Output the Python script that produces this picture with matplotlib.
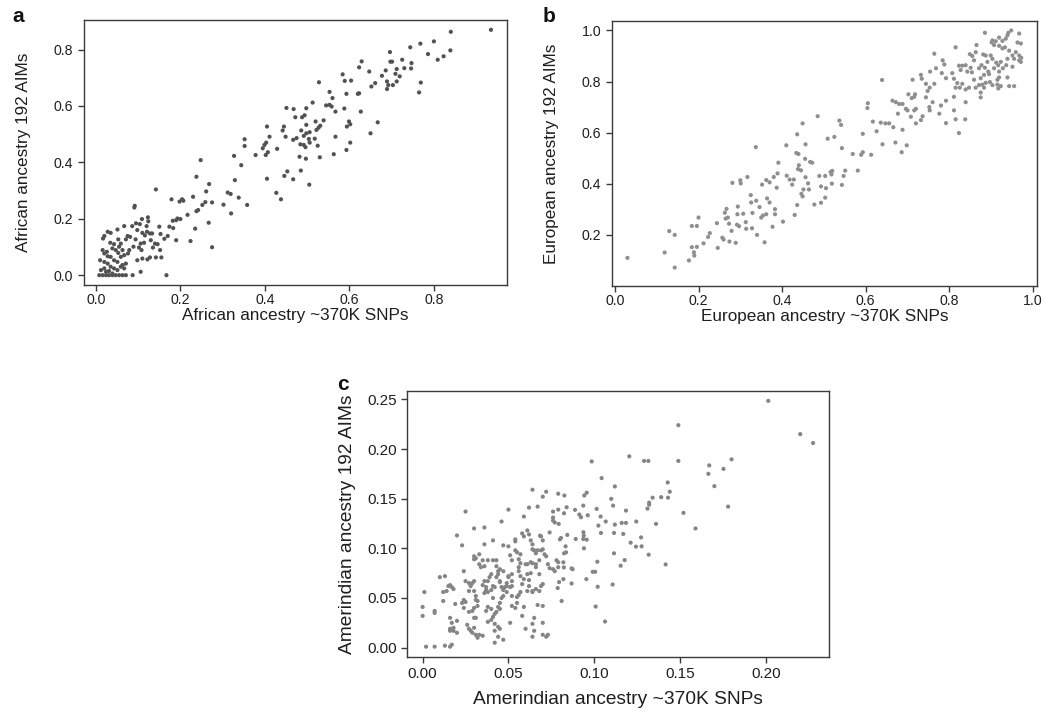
import matplotlib
matplotlib.use("Agg")
import matplotlib.pyplot as plt

plt.rcParams['font.family'] = ['Liberation Sans', 'DejaVu Sans']

# ---------------- Panel a: African ancestry ----------------
african_snps = [
    .248, .327, .344, .238, .268, .329, .405, .142, .261, .312,
    .319, .338, .230, .179, .204, .207, .198, .259, .275, .252,
    .302, .358, .242, .238, .092, .091, .320, .217, .200, .190,
    .193, .182, .109, .123, .124, .267, .095, .104, .067, .086,
    .120, .174, .183, .150, .235, .051, .028, .035, .020, .017,
    .128, .121, .133, .116, .140, .146, .153, .162, .170, .190,
    .224, .098, .110, .094, .106, .114, .130, .135, .152, .142,
    .155, .275, .071, .075, .081, .089, .102, .108, .122, .128,
    .110, .098, .079, .076, .059, .053, .055, .063, .043, .034,
    .039, .047, .053, .059, .067, .071, .063, .051, .043, .035,
    .028, .020, .016, .026, .010, .020, .028, .035, .043, .051,
    .059, .067, .020, .012, .024, .031, .039, .008, .016, .024,
    .031, .039, .047, .055, .063, .071, .087, .106, .167, .352,
    .352,
    .840, .839, .823, .809, .800, .786, .768, .744, .769, .765,
    .747, .746, .730, .725, .712, .709, .719, .712, .703, .692,
    .689, .689, .686, .677, .696, .697, .701, .661, .652, .647,
    .629, .623, .604, .589, .584, .593, .620, .623, .627, .588,
    .553, .560, .528, .553, .545, .558, .567, .513, .498, .468,
    .451, .472, .488, .494, .539, .520, .527, .531, .522, .498,
    .486, .492, .498, .506, .504, .506, .518, .525, .492, .484,
    .496, .467, .475, .442, .445, .449, .411, .405, .403, .399,
    .395, .378, .402, .407, .429, .567, .599, .602, .594, .650,
    .667, .602, .593, .563, .530, .482, .497,
    .446, .453, .467, .485, .505, .427, .438, .935,
]
african_aims = [
    .408, .423, .390, .349, .323, .337, .342, .304, .297, .293,
    .288, .275, .278, .269, .269, .264, .261, .259, .258, .249,
    .250, .249, .231, .227, .246, .240, .219, .214, .199, .195,
    .201, .193, .199, .205, .191, .186, .184, .181, .174, .174,
    .174, .172, .167, .172, .165, .162, .154, .150, .139, .130,
    .148, .154, .148, .141, .112, .110, .146, .129, .139, .124,
    .121, .160, .150, .127, .112, .115, .124, .098, .089, .063,
    .063, .099, .127, .139, .136, .101, .098, .089, .056, .063,
    .059, .053, .089, .077, .112, .127, .101, .089, .110, .115,
    .095, .089, .079, .065, .071, .041, .036, .047, .053, .065,
    .067, .077, .089, .083, .053, .047, .041, .030, .024, .018,
    .030, .024, .024, .018, .012, .015, .006, .000, .000, .000,
    .000, .000, .000, .000, .000, .000, .000, .012, .000, .482,
    .458,
    .863, .797, .776, .764, .829, .784, .821, .808, .683, .648,
    .752, .733, .734, .764, .731, .714, .705, .687, .674, .674,
    .687, .660, .726, .707, .791, .757, .757, .681, .669, .722,
    .758, .737, .690, .689, .712, .643, .643, .645, .580, .591,
    .650, .628, .684, .604, .602, .598, .580, .612, .592, .589,
    .593, .560, .560, .567, .549, .545, .523, .530, .515, .533,
    .513, .494, .503, .507, .483, .470, .484, .459, .462, .464,
    .454, .480, .486, .513, .527, .491, .491, .527, .470, .462,
    .450, .426, .426, .436, .448, .491, .545, .535, .527, .503,
    .542, .470, .444, .429, .418, .420, .413,
    .352, .368, .340, .371, .321, .292, .269, .870,
]

# ---------------- Panel b: European ancestry ----------------
european_snps = [
    .485, .449, .436, .456, .410, .337, .434, .439,
    .455, .467, .472, .391, .440, .438, .445, .411, .389, .380,
    .362, .370, .352, .418, .428, .424, .456, .462, .451, .464,
    .446, .449, .436, .477, .387, .317, .300, .301, .281, .325,
    .326, .338, .346, .364, .370, .383, .383, .362, .354, .350,
    .402, .377, .430, .329, .307, .293, .294, .267, .263, .270,
    .265, .273, .244, .279, .292, .297, .313, .314, .328, .340,
    .358, .289, .274, .260, .257, .246, .227, .223, .212, .200,
    .184, .196, .196, .184, .189, .190, .177, .143, .130, .119,
    .143, .030,
    .948, .941, .939, .967, .963, .971, .935, .927, .919, .911,
    .903, .901, .907, .919, .927, .933, .943, .959, .967, .972,
    .971, .955, .951, .939, .936, .951, .967, .885, .865, .863,
    .849, .855, .859, .839, .831, .823, .827, .843, .851, .854,
    .871, .877, .881, .887, .899, .903, .891, .885, .893, .883,
    .875, .895, .907, .917, .919, .928, .923, .912, .815, .784,
    .788, .764, .768, .782, .792, .807, .811, .819, .815, .831,
    .811, .825, .839, .847, .859, .863, .871, .879, .887, .883,
    .875, .875, .903, .917, .915, .923, .939, .943, .955, .919,
    .915, .897, .839, .811, .815, .838, .823, .792, .792, .776,
    .780, .760, .752, .753, .744, .732, .734, .744, .748, .753,
    .764, .754, .712, .718, .702, .710, .716, .720, .716, .696,
    .700, .688, .677, .672, .664, .680, .708, .720, .732, .736,
    .688, .666, .656, .647, .636, .617, .626, .593, .605, .604,
    .639, .640, .671, .698, .686, .593, .569, .613, .541, .537,
    .525, .509, .543, .589,
    .489, .503, .516, .520, .518, .547, .551, .581, .493, .505,
    .519, .543, .503, .493,
]
european_aims = [
    .664, .636, .593, .554, .550, .543, .520, .516,
    .497, .485, .482, .482, .472, .457, .452, .431, .440, .426,
    .414, .405, .396, .416, .416, .396, .425, .401, .377, .377,
    .360, .350, .316, .318, .384, .426, .413, .401, .403, .355,
    .326, .333, .308, .342, .326, .300, .280, .280, .275, .267,
    .251, .231, .277, .285, .282, .280, .310, .301, .286, .267,
    .263, .243, .245, .215, .239, .233, .249, .223, .225, .199,
    .170, .168, .173, .181, .188, .148, .206, .191, .166, .267,
    .234, .234, .152, .151, .131, .118, .099, .199, .214, .130,
    .071, .109,
    1.000, .991, .981, .988, .953, .949, .968, .959, .972, .958,
    .961, .953, .943, .940, .930, .934, .921, .915, .902, .893,
    .877, .889, .902, .889, .864, .858, .883, .991, .943, .915,
    .907, .900, .883, .864, .862, .862, .845, .839, .854, .836,
    .852, .864, .906, .902, .902, .889, .877, .854, .839, .826,
    .813, .829, .852, .864, .839, .852, .877, .874, .934, .883,
    .867, .909, .852, .833, .813, .833, .811, .794, .776, .791,
    .740, .776, .769, .776, .807, .776, .786, .788, .795, .776,
    .757, .738, .786, .773, .788, .782, .816, .782, .782, .816,
    .807, .798, .719, .687, .652, .652, .598, .637, .725, .674,
    .706, .719, .700, .687, .738, .826, .811, .791, .763, .776,
    .791, .839, .807, .750, .750, .735, .740, .693, .687, .693,
    .687, .712, .674, .719, .725, .712, .662, .636, .649, .664,
    .611, .621, .636, .636, .639, .643, .605, .595, .715, .696,
    .806, .554, .561, .550, .523, .523, .516, .513, .630, .647,
    .583, .576, .539, .513,
    .430, .430, .446, .450, .436, .430, .451, .451, .389, .382,
    .400, .395, .345, .325,
]

# ---------------- Panel c: Amerindian ancestry ----------------
amerindian_snps = [
    .025, .030, .036, .046, .050, .059, .062, .064, .067, .070,
    .072, .079, .076, .079, .076, .076,
    .000, .000, .001, .007, .007, .002, .007, .013, .016, .017,
    .010, .013, .014, .012, .012, .015, .016, .017, .018, .019,
    .016, .017, .016, .016, .018, .018, .020, .020, .024, .023,
    .024, .025, .024, .025, .027, .028, .029, .030, .030, .027,
    .030, .027, .029, .030, .031, .032, .031, .032, .031, .026,
    .027, .028, .030, .029, .031, .032, .033, .035, .030, .030,
    .031, .033, .035, .036, .038, .041, .043, .033, .034, .036,
    .035, .037, .037, .036, .038, .040, .041, .042, .043, .044,
    .044, .043, .045, .047, .040, .039, .038, .045, .045, .046,
    .047, .047, .048, .049, .049, .050, .050, .052, .052, .052,
    .051, .049, .047, .046, .045, .044, .045, .043, .042, .041,
    .040, .038, .037, .038, .040, .041, .042, .044, .045, .042,
    .044, .042, .047, .051, .052, .054, .055, .052, .055, .056,
    .057, .058, .057, .056, .056, .057, .056, .052, .051, .047,
    .050, .036, .041, .023, .020, .054, .055, .057, .054, .054,
    .058, .059, .061, .062, .063, .064, .064, .065, .066, .067,
    .069, .070, .071, .072, .070, .069, .074, .077, .080, .078,
    .079, .079, .077, .076, .073, .074, .070, .069, .068, .066,
    .064, .064, .062, .061, .062, .061, .059, .063, .064, .063,
    .061, .060, .066, .068, .066, .068, .070, .067, .065, .064,
    .065, .064, .070, .072, .073, .070, .058, .059, .060,
    .2014, .149, .0985, .1204, .129, .1315, .149, .167, .180, .1753,
    .1665, .170, .178, .152, .159, .1043, .112, .1428, .144, .143,
    .139, .134, .132, .132, .131, .136, .1185, .1245, .1185, .116,
    .112, .1067, .1024, .1037, .1014, .1099, .111, .0962, .0936, .0942,
    .0956, .0913, .0923, .0888, .0839, .0826, .0824, .0793,
    .0684, .0806, .0843, .0833, .0824, .0836, .0892, .0937, .0939, .0936,
    .0956, .094, .1039, .1115, .1169, .1212, .1243, .1276, .1273, .1317,
    .1115, .1177, .1154, .1416, .1018, .0991, .1005, .0954, .102, .1107,
    .1008, .1063, .0868, .0874, .0868, .082, .0823, .082, .0795, .0787,
    .081, .220, .2275,
]
amerindian_aims = [
    .137, .120, .121, .127, .139, .132, .141, .159, .142, .152,
    .157, .155, .137, .139, .131, .128,
    .041, .032, .056, .037, .035, .001, .001, .002, .001, .003,
    .071, .072, .057, .056, .047, .062, .063, .061, .059, .044,
    .030, .025, .019, .017, .020, .017, .027, .015, .040, .045,
    .048, .046, .077, .067, .065, .062, .065, .067, .057, .057,
    .040, .036, .037, .030, .030, .042, .048, .047, .052, .023,
    .019, .017, .020, .015, .013, .010, .013, .012, .092, .089,
    .090, .094, .088, .082, .088, .088, .088, .084, .081, .067,
    .063, .061, .058, .055, .056, .058, .062, .061, .071, .074,
    .077, .082, .079, .077, .074, .071, .067, .067, .066, .061,
    .060, .058, .061, .062, .065, .071, .072, .074, .067, .062,
    .061, .056, .052, .050, .045, .041, .039, .036, .034, .031,
    .028, .026, .037, .041, .039, .050, .024, .021, .019, .017,
    .011, .005, .008, .025, .042, .040, .045, .052, .051, .053,
    .056, .064, .072, .077, .081, .085, .089, .088, .093, .103,
    .102, .104, .108, .103, .113, .098, .096, .094, .109, .107,
    .115, .112, .118, .114, .108, .104, .099, .098, .095, .098,
    .098, .099, .094, .092, .108, .112, .116, .126, .109, .088,
    .086, .081, .077, .079, .084, .080, .064, .062, .057, .059,
    .057, .056, .062, .057, .068, .074, .069, .075, .085, .086,
    .084, .084, .084, .088, .081, .074, .042, .043, .030, .024,
    .017, .011, .013, .011, .013, .025, .032, .041, .019,
    .2485, .224, .1875, .1926, .188, .188, .188, .1835, .1896, .180,
    .175, .1626, .142, .1357, .120, .1707, .1623, .1663, .157, .151,
    .1515, .151, .146, .144, .140, .1246, .138, .127, .1256, .1256,
    .1239, .127, .1229, .132, .1397, .1498, .143, .1333, .143, .1532,
    .156, .134, .1313, .1387, .1414, .1532, .1353, .1246,
    .1128, .1104, .1135, .102, .095, .096, .1094, .1162, .1128, .1094,
    .1087, .100, .1155, .1155, .1145, .1057, .1017, .102, .111, .0936,
    .095, .0882, .0825, .0838, .0865, .0764, .0764, .069, .0613, .0636,
    .0414, .0263, .0798, .079, .0646, .0859, .0808, .069, .066, .060,
    .047, .215, .206,
]

# tick labels
ab_ticks = [0.0, 0.2, 0.4, 0.6, 0.8, 1.0]
ab_ticklabels = ["0.0", "0.2", "0.4", "0.6", "0.8", "1.0"]
c_ticks = [0.00, 0.05, 0.10, 0.15, 0.20, 0.25]
c_ticklabels = ["0.00", "0.05", "0.10", "0.15", "0.20", "0.25"]

W, H = 1049, 718
fig = plt.figure(figsize=(W / 100, H / 100), dpi=100)

TXT = "#1e1e1e"
SPINE = "#3a3a3a"


def px_axes(left, top, right, bottom):
    return fig.add_axes([left / W, 1 - bottom / H, (right - left) / W, (bottom - top) / H])


def r_limits(vals):
    lo, hi = min(vals), max(vals)
    pad = 0.04 * (hi - lo)
    return lo - pad, hi + pad


def style(ax, ticks, labels, xmax_tick, ymax_tick, fs, xpad):
    for s in ax.spines.values():
        s.set_color(SPINE)
        s.set_linewidth(1.0)
    xt = [t for t in ticks if t <= xmax_tick + 1e-9]
    yt = [t for t in ticks if t <= ymax_tick + 1e-9]
    ax.set_xticks(xt)
    ax.set_xticklabels(labels[:len(xt)])
    ax.set_yticks(yt)
    ax.set_yticklabels(labels[:len(yt)])
    ax.tick_params(direction='out', length=4.5, width=1.0, color=SPINE,
                   labelsize=fs, labelcolor=TXT, pad=3)
    ax.tick_params(axis='x', pad=xpad)


# panel a
axa = px_axes(83.6, 20, 506.6, 285)
axa.scatter(african_snps, african_aims, s=9, c="#525252", edgecolors='none')
axa.set_xlim(r_limits(african_snps))
axa.set_ylim(r_limits(african_aims))
style(axa, ab_ticks, ab_ticklabels, 0.8, 0.8, 10.2, 1.5)
axa.set_xlabel("African ancestry ~370K SNPs", fontsize=12.3, color=TXT, labelpad=0.5)
axa.set_ylabel("African ancestry 192 AIMs", fontsize=12.3, color=TXT, labelpad=16.5)
fig.text(18 / W, 1 - 16 / H, "a", fontsize=15, fontweight='bold', color="#111111", va='center', ha='center')

# panel b
axb = px_axes(611.7, 21, 1037, 285.7)
axb.scatter(european_snps, european_aims, s=9, c="#8f8f8f", edgecolors='none')
axb.set_xlim(r_limits(european_snps))
axb.set_ylim(r_limits(european_aims))
style(axb, ab_ticks, ab_ticklabels, 1.0, 1.0, 10.2, 1.5)
axb.set_yticks([0.2, 0.4, 0.6, 0.8, 1.0])
axb.set_yticklabels(["0.2", "0.4", "0.6", "0.8", "1.0"])
axb.set_xlabel("European ancestry ~370K SNPs", fontsize=12.3, color=TXT, labelpad=0.5)
axb.set_ylabel("European ancestry 192 AIMs", fontsize=12.3, color=TXT, labelpad=16)
fig.text(549 / W, 1 - 16 / H, "b", fontsize=15, fontweight='bold', color="#111111", va='center', ha='center')

# panel c
axc = px_axes(407, 391, 828.7, 656.5)
axc.scatter(amerindian_snps, amerindian_aims, s=9, c="#858585", edgecolors='none')
axc.set_xlim(r_limits(amerindian_snps))
axc.set_ylim(r_limits(amerindian_aims))
style(axc, c_ticks, c_ticklabels, 0.20, 0.25, 11, 3)
axc.set_xlabel("Amerindian ancestry ~370K SNPs", fontsize=13.8, color=TXT, labelpad=7)
axc.set_ylabel("Amerindian ancestry 192 AIMs", fontsize=13.8, color=TXT, labelpad=8)
fig.text(343 / W, 1 - 384 / H, "c", fontsize=15, fontweight='bold', color="#111111", va='center', ha='center')

fig.savefig("out.png", dpi=100)
